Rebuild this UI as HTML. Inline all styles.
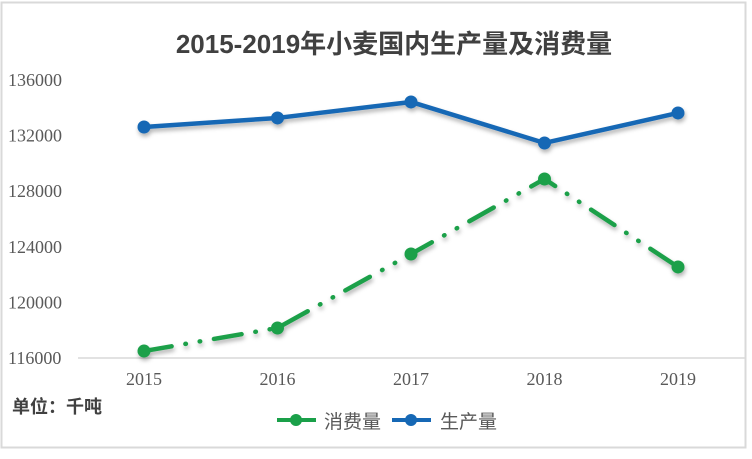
<!DOCTYPE html>
<html><head><meta charset="utf-8"><style>
html,body{margin:0;padding:0;background:#fff;width:752px;height:459px;overflow:hidden}
text{font-family:"Liberation Sans","Noto Sans CJK SC",sans-serif}
.tick{font-family:"Liberation Serif","Noto Serif CJK SC",serif}
</style></head><body>
<svg id="chart" width="752" height="459" xmlns="http://www.w3.org/2000/svg">
<defs><filter id="sh" x="-10%" y="-10%" width="120%" height="140%"><feDropShadow dx="1" dy="3" stdDeviation="2" flood-color="#000" flood-opacity="0.3"/></filter></defs>
<rect x="1.5" y="2.5" width="744" height="445" fill="#fff" stroke="#d9d9d9" stroke-width="2"/>
<text x="394" y="53" text-anchor="middle" font-size="26" font-weight="bold" fill="#404040">2015-2019年小麦国内生产量及消费量</text>
<line x1="78" y1="358" x2="745" y2="358" stroke="#d9d9d9" stroke-width="1.5"/>
<g id="yticks"></g><g id="xticks"></g><g id="series"></g>
<text x="12" y="413" font-size="18" font-weight="bold" fill="#404040">单位：千吨</text>
<g>
<line x1="277" y1="420" x2="316" y2="420" stroke="#1aa049" stroke-width="4"/><circle cx="296" cy="420" r="6" fill="#1aa049"/>
<text x="324" y="428" font-size="19" fill="#595959">消费量</text></g>
<g>
<line x1="392" y1="420" x2="431" y2="420" stroke="#1668b5" stroke-width="4"/><circle cx="411" cy="420" r="6" fill="#1668b5"/>
<text x="440" y="428" font-size="19" fill="#595959">生产量</text></g>
</svg>
<script>
const years=["2015","2016","2017","2018","2019"];
const production=[132620,133270,134420,131470,133630];
const consumption=[116500,118160,123480,128880,122550];
const yTicks=[116000,120000,124000,128000,132000,136000];
const NS="http://www.w3.org/2000/svg";
function xs(i){return 144+i*133.5;}
function ys(v){return 358-(v-116000)/20000*278;}
function mk(tag,attrs,parent){const e=document.createElementNS(NS,tag);for(const k in attrs)e.setAttribute(k,attrs[k]);parent.appendChild(e);return e;}
const yg=document.getElementById('yticks'),xg=document.getElementById('xticks'),sg=document.getElementById('series');
yTicks.forEach(v=>{const t=mk('text',{x:8,y:ys(v)+6,'font-size':18,fill:'#595959','class':'tick'},yg);t.textContent=v;

});
years.forEach((y,i)=>{const t=mk('text',{x:xs(i),y:385,'text-anchor':'middle','font-size':18,fill:'#595959','class':'tick'},xg);t.textContent=y;

});
function series(vals,color,dash,name){
const g=mk('g',{filter:'url(#sh)'},sg);


const pts=vals.map((v,i)=>xs(i)+','+ys(v)).join(' ');
const a={points:pts,fill:'none',stroke:color,'stroke-width':4.5,'stroke-linejoin':'round'};
if(dash){a['stroke-dasharray']=dash;a['stroke-linecap']='round';}
mk('polyline',a,g);
vals.forEach((v,i)=>{const c=mk('circle',{cx:xs(i),cy:ys(v),r:6.5,fill:color},g);

});
}
series(production,'#1668b5',null,'production-line');
series(consumption,'#1aa049','28 14 0.5 14 0.5 14','consumption-line');
</script>
</body></html>
